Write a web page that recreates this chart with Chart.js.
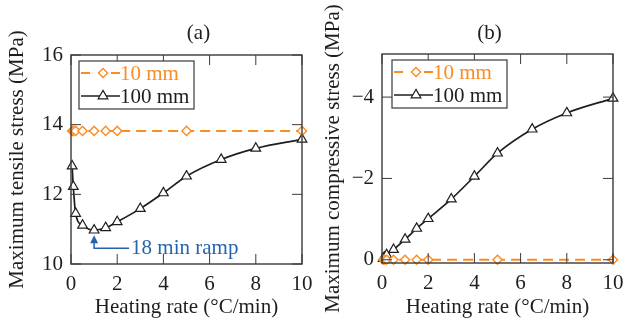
<!DOCTYPE html>
<html>
<head>
<meta charset="utf-8">
<script src="https://cdn.jsdelivr.net/npm/chart.js@4.4.0/dist/chart.umd.min.js"></script>
<style>
  body { margin: 0; background: #fff; }
  #wrap { position: relative; width: 624px; height: 321px; }
  canvas { position: absolute; top: 0; }
</style>
</head>
<body>
<div id="wrap">
  <canvas id="chartA" width="312" height="321" style="left:0"></canvas>
  <canvas id="chartB" width="312" height="321" style="left:312px"></canvas>
</div>
<script>
// Heating rates (°C/min) for each slab thickness
const ratesThick = [0.05, 0.1, 0.2, 0.5, 1, 1.5, 2, 3, 4, 5, 6.5, 8, 10];
const ratesThin = [0.05, 0.1, 0.2, 0.5, 1, 1.5, 2, 5, 10];

// (a) maximum tensile stress (MPa)
const tensileThin = [13.82, 13.82, 13.82, 13.82, 13.82, 13.82, 13.82, 13.82, 13.82];
const tensileThick = [12.81, 12.22, 11.45, 11.11, 10.97, 11.04, 11.21, 11.59, 12.04, 12.52, 13.0, 13.32, 13.58];

// (b) maximum compressive stress (MPa)
const compressThin = [0, 0, 0, 0, 0, 0, 0, 0, 0];
const compressThick = [-0.03, -0.06, -0.12, -0.25, -0.5, -0.77, -1.01, -1.49, -2.05, -2.62, -3.21, -3.61, -3.97];

// Tick values
const ticksRate = [0, 2, 4, 6, 8, 10];
const ticksTensile = [10, 12, 14, 16];
const ticksCompress = [0, -2, -4];

const ORANGE = '#fb8c23';
const INK = '#1e1e1e';
const BLUE = '#2463ad';
const SERIF = "'Liberation Serif', 'DejaVu Serif', serif";
const TICK_FONT = { family: SERIF, size: 21 };
const TITLE_FONT = { family: SERIF, size: 21 };

// Box frame with inward tick marks on every side
const framePlugin = {
  id: 'frame',
  afterDatasetsDraw(chart) {
    const { ctx, chartArea: a, scales: { x, y } } = chart;
    ctx.save();
    ctx.strokeStyle = '#3a3a3a';
    ctx.lineWidth = 1;
    ctx.beginPath();
    x.ticks.forEach(t => {
      const px = x.getPixelForValue(t.value);
      ctx.moveTo(px, a.bottom); ctx.lineTo(px, a.bottom - 10);
      ctx.moveTo(px, a.top); ctx.lineTo(px, a.top + 10);
    });
    y.ticks.forEach(t => {
      const py = y.getPixelForValue(t.value);
      ctx.moveTo(a.left, py); ctx.lineTo(a.left + 10, py);
      ctx.moveTo(a.right, py); ctx.lineTo(a.right - 10, py);
    });
    ctx.stroke();
    ctx.lineWidth = 1.4;
    ctx.strokeRect(a.left, a.top, a.right - a.left, a.bottom - a.top);
    ctx.restore();
  }
};

// Boxed legend in the upper left corner, panel label above the frame
const boxLegendPlugin = {
  id: 'boxLegend',
  afterDraw(chart, args, opts) {
    const { ctx, chartArea: a } = chart;
    const left = a.left + opts.dx;
    const top = a.top + 6;
    ctx.save();
    ctx.fillStyle = '#fff';
    ctx.fillRect(left, top, 115, 48);
    ctx.strokeStyle = '#3a3a3a';
    ctx.lineWidth = 1.2;
    ctx.strokeRect(left, top, 115, 48);

    ctx.font = `${TICK_FONT.size}px ${SERIF}`;
    ctx.textBaseline = 'middle';
    chart.data.datasets.forEach((ds, i) => {
      const cy = top + 12 + i * 23;
      ctx.strokeStyle = ds.borderColor;
      ctx.lineWidth = ds.borderWidth;
      ctx.setLineDash(ds.borderDash ? [9, 21] : []);
      ctx.beginPath();
      ctx.moveTo(left + 2, cy);
      ctx.lineTo(left + 41, cy);
      ctx.stroke();
      ctx.setLineDash([]);
      ctx.fillStyle = '#fff';
      ctx.strokeStyle = ds.pointBorderColor;
      ctx.lineWidth = ds.pointBorderWidth;
      ctx.beginPath();
      drawMarker(ctx, ds.pointStyle, left + 24, cy, ds.pointRadius);
      ctx.fill();
      ctx.stroke();
      ctx.fillStyle = ds.borderColor;
      ctx.textAlign = 'left';
      ctx.fillText(ds.label, left + 41, cy + 1);
    });

    ctx.fillStyle = INK;
    ctx.textAlign = 'center';
    ctx.fillText(opts.panel, (a.left + a.right) / 2 + opts.panelDx, 33);
    ctx.restore();
  }
};

function drawMarker(ctx, style, x, y, r) {
  if (style === 'triangle') {
    for (let k = 0; k < 3; k++) {
      const ang = k * 2 * Math.PI / 3;
      const px = x + Math.sin(ang) * r, py = y - Math.cos(ang) * r;
      k === 0 ? ctx.moveTo(px, py) : ctx.lineTo(px, py);
    }
  } else {
    ctx.moveTo(x, y - r); ctx.lineTo(x + r, y); ctx.lineTo(x, y + r); ctx.lineTo(x - r, y);
  }
  ctx.closePath();
}

// Arrow and note at the minimum of the 100 mm curve
const rampPlugin = {
  id: 'ramp',
  afterDraw(chart) {
    const { ctx, scales: { x, y } } = chart;
    const i = tensileThick.indexOf(Math.min(...tensileThick));
    const px = x.getPixelForValue(ratesThick[i]);
    const py = y.getPixelForValue(tensileThick[i]) + 5;
    const ly = py + 13;
    ctx.save();
    ctx.fillStyle = BLUE;
    ctx.strokeStyle = BLUE;
    ctx.lineWidth = 1.5;
    ctx.beginPath();
    ctx.moveTo(px, py); ctx.lineTo(px + 4, py + 8); ctx.lineTo(px - 4, py + 8);
    ctx.closePath();
    ctx.fill();
    ctx.beginPath();
    ctx.moveTo(px, py + 7); ctx.lineTo(px, ly); ctx.lineTo(px + 35, ly);
    ctx.stroke();
    ctx.font = `${TICK_FONT.size}px ${SERIF}`;
    ctx.textBaseline = 'middle';
    ctx.textAlign = 'left';
    ctx.fillText('18 min ramp', px + 37, ly);
    ctx.restore();
  }
};

function series(label, rates, values, thin) {
  return {
    label: label,
    data: rates.map((r, i) => ({ x: r, y: values[i] })),
    borderColor: thin ? ORANGE : INK,
    borderWidth: thin ? 2 : 1.7,
    borderDash: thin ? [10, 6] : undefined,
    pointStyle: thin ? 'rectRot' : 'triangle',
    pointRadius: thin ? 4.6 : 5.6,
    pointBorderWidth: thin ? 1.4 : 1.2,
    pointBorderColor: thin ? ORANGE : INK,
    pointBackgroundColor: '#fff',
    cubicInterpolationMode: 'monotone',
    clip: false
  };
}

function makeChart(id, opt) {
  return new Chart(document.getElementById(id), {
    type: 'line',
    data: { datasets: opt.datasets },
    options: {
      responsive: false,
      animation: false,
      layout: { padding: opt.padding },
      plugins: {
        legend: { display: false },
        tooltip: { enabled: false },
        boxLegend: { dx: opt.legendDx, panel: opt.panel, panelDx: opt.panelDx }
      },
      scales: {
        x: {
          type: 'linear',
          min: 0,
          max: 10,
          afterBuildTicks: s => { s.ticks = ticksRate.map(v => ({ value: v })); },
          afterFit: s => { s.height = opt.xHeight; s.paddingLeft = 0; s.paddingRight = 0; },
          grid: { display: false, drawTicks: false },
          border: { display: false },
          ticks: { font: TICK_FONT, color: INK, padding: 8, maxRotation: 0 },
          title: { display: true, text: 'Heating rate (°C/min)', font: TITLE_FONT, color: INK, padding: { top: 0, bottom: 1 } }
        },
        y: {
          type: 'linear',
          min: opt.yMin,
          max: opt.yMax,
          reverse: opt.reverse,
          afterBuildTicks: s => { s.ticks = opt.yTicks.map(v => ({ value: v })); },
          afterFit: s => { s.width = opt.yWidth; s.paddingTop = 0; s.paddingBottom = 0; },
          grid: { display: false, drawTicks: false },
          border: { display: false },
          ticks: { font: TICK_FONT, color: INK, padding: 8, callback: v => v < 0 ? '\u2212' + Math.abs(v) : String(v) },
          title: { display: true, text: opt.yTitle, font: TITLE_FONT, color: INK, padding: { top: opt.yTitlePad, bottom: 0 } }
        }
      }
    },
    plugins: opt.plugins
  });
}

makeChart('chartA', {
  datasets: [
    series('10 mm', ratesThin, tensileThin, true),
    series('100 mm', ratesThick, tensileThick, false)
  ],
  padding: { top: 55, right: 10, bottom: 0, left: 0 },
  xHeight: 57,
  yWidth: 71,
  yMin: 10,
  yMax: 16,
  reverse: false,
  yTicks: ticksTensile,
  yTitle: 'Maximum tensile stress (MPa)',
  yTitlePad: 5,
  legendDx: 8,
  panel: '(a)',
  panelDx: 12,
  plugins: [framePlugin, rampPlugin, boxLegendPlugin]
});

makeChart('chartB', {
  datasets: [
    series('10 mm', ratesThin, compressThin, true),
    series('100 mm', ratesThick, compressThick, false)
  ],
  padding: { top: 54, right: 11, bottom: 0, left: 0 },
  xHeight: 58,
  yWidth: 70,
  yMin: -5.06,
  yMax: 0.08,
  reverse: true,
  yTicks: ticksCompress,
  yTitle: 'Maximum compressive stress (MPa)',
  yTitlePad: 9,
  legendDx: 10,
  panel: '(b)',
  panelDx: -8,
  plugins: [framePlugin, boxLegendPlugin]
});
</script>
</body>
</html>
